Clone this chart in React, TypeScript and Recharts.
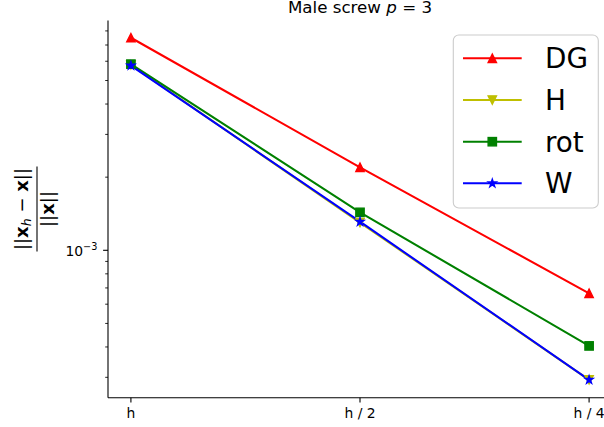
import React from 'react';
import { LineChart, Line, XAxis, YAxis } from 'recharts';

const categories = ['h', 'h / 2', 'h / 4'];
const dgValues = [7.5e-3, 2.196e-3, 6.65e-4];
const hValues = [5.8e-3, 1.3e-3, 2.93e-4];
const rotValues = [5.84e-3, 1.433e-3, 4.04e-4];
const wValues = [5.76e-3, 1.311e-3, 2.93e-4];
const yTicks = [3e-4, 4e-4, 5e-4, 6e-4, 7e-4, 8e-4, 9e-4, 1e-3, 2e-3, 3e-3, 4e-3, 5e-3, 6e-3, 7e-3, 8e-3];
const yMajor = 1e-3;
const yDomain = [2.473e-4, 8.83e-3];
const xDomain = [-0.1, 2.1];

const data = categories.map((c, i) => ({
  x: i,
  DG: dgValues[i],
  H: hValues[i],
  rot: rotValues[i],
  W: wValues[i],
}));

const FONT = 'DejaVu Sans';
const MS = 4.17; // half marker size
const EW = 1.39;

function marker(kind: string, color: string, cx: number, cy: number, key?: any) {
  const h = MS;
  if (kind === 'up') {
    return <polygon key={key} points={`${cx},${cy - h} ${cx - h},${cy + h} ${cx + h},${cy + h}`} fill={color} stroke={color} strokeWidth={EW} strokeLinejoin="miter" />;
  }
  if (kind === 'down') {
    return <polygon key={key} points={`${cx},${cy + h} ${cx - h},${cy - h} ${cx + h},${cy - h}`} fill={color} stroke={color} strokeWidth={EW} strokeLinejoin="miter" />;
  }
  if (kind === 'square') {
    return <rect key={key} x={cx - h} y={cy - h} width={2 * h} height={2 * h} fill={color} stroke={color} strokeWidth={EW} />;
  }
  const pts: string[] = [];
  for (let i = 0; i < 10; i++) {
    const r = i % 2 === 0 ? h : h * 0.381966;
    const a = (Math.PI / 5) * i;
    pts.push(`${cx + r * Math.sin(a)},${cy - r * Math.cos(a)}`);
  }
  return <polygon key={key} points={pts.join(' ')} fill={color} stroke={color} strokeWidth={EW} strokeLinejoin="miter" />;
}

const makeDot = (kind: string, color: string) => (props: any) => {
  const { cx, cy, index } = props;
  if (cx == null || cy == null) return <g key={`n${index}`} />;
  return marker(kind, color, cx, cy, `${kind}${index}`);
};

const series = [
  { key: 'DG', color: '#ff0000', kind: 'up' },
  { key: 'H', color: '#bfbf00', kind: 'down' },
  { key: 'rot', color: '#008000', kind: 'square' },
  { key: 'W', color: '#0000ff', kind: 'star' },
];

const YTick = (props: any) => {
  const { x, y, payload } = props;
  const major = payload.value === yMajor;
  return (
    <g>
      <line x1={x - (major ? 4.9 : 2.8)} x2={x} y1={y} y2={y} stroke="#000" strokeWidth={major ? 1.1 : 0.85} />
      {major && (
        <text x={x - 10.6} y={y + 5.7} textAnchor="end" fontFamily={FONT} fontSize={13.9} fill="#000">
          10<tspan dy={-6} fontSize={9.7}>−3</tspan>
        </text>
      )}
    </g>
  );
};

const XTick = (props: any) => {
  const { x, y, payload } = props;
  return (
    <g>
      <line x1={x} x2={x} y1={y} y2={y + 4.9} stroke="#000" strokeWidth={1.1} />
      <text x={x} y={y + 20.5} textAnchor="middle" fontFamily={FONT} fontSize={13.9} fill="#000">
        {categories[payload.value]}
      </text>
    </g>
  );
};

const legendRows = [58.3, 100, 141.7, 183.3];

export default function App() {
  return (
    <div style={{ position: 'absolute', left: 0, top: 0, width: 604, height: 427, overflow: 'hidden', background: '#fff' }}>
      <LineChart width={620} height={427} data={data} margin={{ top: 20.5, right: 8, bottom: 0, left: 0 }}>
        <XAxis
          dataKey="x"
          type="number"
          domain={xDomain}
          ticks={[0, 1, 2]}
          interval={0}
          allowDataOverflow
          height={29.3}
          tickSize={0}
          tickMargin={0}
          tick={<XTick />}
          axisLine={{ stroke: '#000', strokeWidth: 1.1 }}
          tickLine={false}
        />
        <XAxis
          xAxisId="top"
          orientation="top"
          type="number"
          domain={xDomain}
          allowDataOverflow
          height={0}
          tick={false}
          tickLine={false}
          axisLine={{ stroke: '#000', strokeWidth: 1.1 }}
        />
        <YAxis
          type="number"
          scale="log"
          domain={yDomain}
          allowDataOverflow
          ticks={yTicks}
          interval={0}
          width={108}
          tickSize={0}
          tickMargin={0}
          tick={<YTick />}
          tickLine={false}
          axisLine={{ stroke: '#000', strokeWidth: 1.1 }}
        />
        {series.map((s) => (
          <Line
            key={s.key}
            type="linear"
            dataKey={s.key}
            stroke={s.color}
            strokeWidth={2.08}
            dot={makeDot(s.kind, s.color)}
            activeDot={false}
            isAnimationActive={false}
          />
        ))}
      </LineChart>
      <svg width={604} height={427} style={{ position: 'absolute', left: 0, top: 0, pointerEvents: 'none' }}>
        <text x={360} y={13.3} textAnchor="middle" fontFamily={FONT} fontSize={16.7} fill="#000">
          Male screw <tspan fontStyle="italic">p</tspan>
          <tspan>{' = 3'}</tspan>
        </text>
        <g transform="translate(37, 209) rotate(-90)" fontFamily={FONT} fill="#000">
          <text x={0} y={-9.3} textAnchor="middle" fontSize={18}>
            ||<tspan fontWeight="bold">x</tspan>
            <tspan fontSize={12.6} fontStyle="italic" dy={3.6}>h</tspan>
            <tspan dy={-3.6}>{' − '}</tspan>
            <tspan fontWeight="bold">x</tspan>||
          </text>
          <line x1={-42.5} x2={42.5} y1={0} y2={0} stroke="#000" strokeWidth={1.1} />
          <text x={0} y={17} textAnchor="middle" fontSize={18}>
            ||<tspan fontWeight="bold">x</tspan>||
          </text>
        </g>
        <rect x={453.3} y={35} width={145} height={173} rx={5.5} ry={5.5} fill="#fff" fillOpacity={0.8} stroke="#cccccc" strokeWidth={1.1} />
        {series.map((s, i) => (
          <g key={s.key}>
            <line x1={463} x2={521.7} y1={legendRows[i]} y2={legendRows[i]} stroke={s.color} strokeWidth={2.08} />
            {marker(s.kind, s.color, 492.3, legendRows[i])}
            <text x={545} y={legendRows[i] + 10} fontFamily={FONT} fontSize={27.8} fill="#000">
              {s.key}
            </text>
          </g>
        ))}
      </svg>
    </div>
  );
}
